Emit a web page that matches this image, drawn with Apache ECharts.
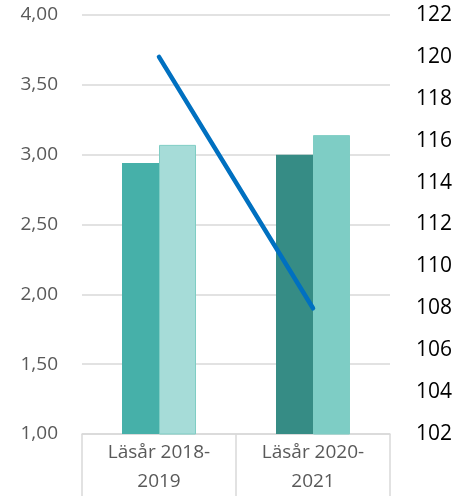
<!DOCTYPE html>
<html>
<head>
<meta charset="utf-8">
<script src="https://cdn.jsdelivr.net/npm/echarts@6/dist/echarts.min.js"></script>
<style>
  html, body { margin: 0; padding: 0; background: #fff; }
  #chart { width: 458px; height: 496px; }
</style>
</head>
<body>
<div id="chart"></div>
<script>
// data
const categories = ['Läsår 2018-\n2019', 'Läsår 2020-\n2021']
const barA = [2.94, 3.00]
const barB = [3.07, 3.14]
const lineValues = [120, 108]

const barAColors = ['#46b0a9', '#368c85']
const barBColors = ['#a6dcd8', '#7ecdc5']

const chart = echarts.init(document.getElementById('chart'))

const font = '"Open Sans", "Noto Sans", sans-serif'

chart.setOption({
  animation: false,
  backgroundColor: '#fff',
  grid: { left: 82, right: 68, top: 15, bottom: 61 },
  xAxis: {
    type: 'category',
    data: categories,
    boundaryGap: true,
    axisLine: { lineStyle: { color: '#d9d9d9', width: 1.5 } },
    axisTick: { show: true, length: 62, lineStyle: { color: '#d9d9d9', width: 1.5 } },
    axisLabel: {
      color: '#595959',
      fontFamily: font,
      fontSize: 19,
      lineHeight: 29,
      margin: 4
    }
  },
  yAxis: [
    {
      type: 'value',
      min: 1,
      max: 4,
      interval: 0.5,
      axisLine: { show: false },
      axisTick: { show: false },
      splitLine: { lineStyle: { color: '#d9d9d9', width: 1.5 } },
      axisLabel: {
        color: '#595959',
        fontFamily: font,
        fontSize: 19,
        margin: 24,
        formatter: v => v.toFixed(2).replace('.', ',')
      }
    },
    {
      type: 'value',
      min: 102,
      max: 122,
      interval: 2,
      axisLine: { show: false },
      axisTick: { show: false },
      splitLine: { show: false },
      axisLabel: {
        color: '#000',
        fontFamily: font,
        fontSize: 21,
        margin: 26
      }
    }
  ],
  series: [
    {
      type: 'bar',
      data: barA.map((v, i) => ({ value: v, itemStyle: { color: barAColors[i] } })),
      barWidth: 37,
      barGap: '0%'
    },
    {
      type: 'bar',
      data: barB.map((v, i) => ({
        value: v,
        itemStyle: { color: barBColors[i], borderColor: '#7fcdc4', borderWidth: 1 }
      })),
      barWidth: 37,
      barGap: '0%'
    },
    {
      type: 'line',
      yAxisIndex: 1,
      data: lineValues,
      symbol: 'none',
      lineStyle: { color: '#0070c0', width: 4.5, cap: 'round' },
      z: 5
    }
  ]
})
</script>
</body>
</html>
